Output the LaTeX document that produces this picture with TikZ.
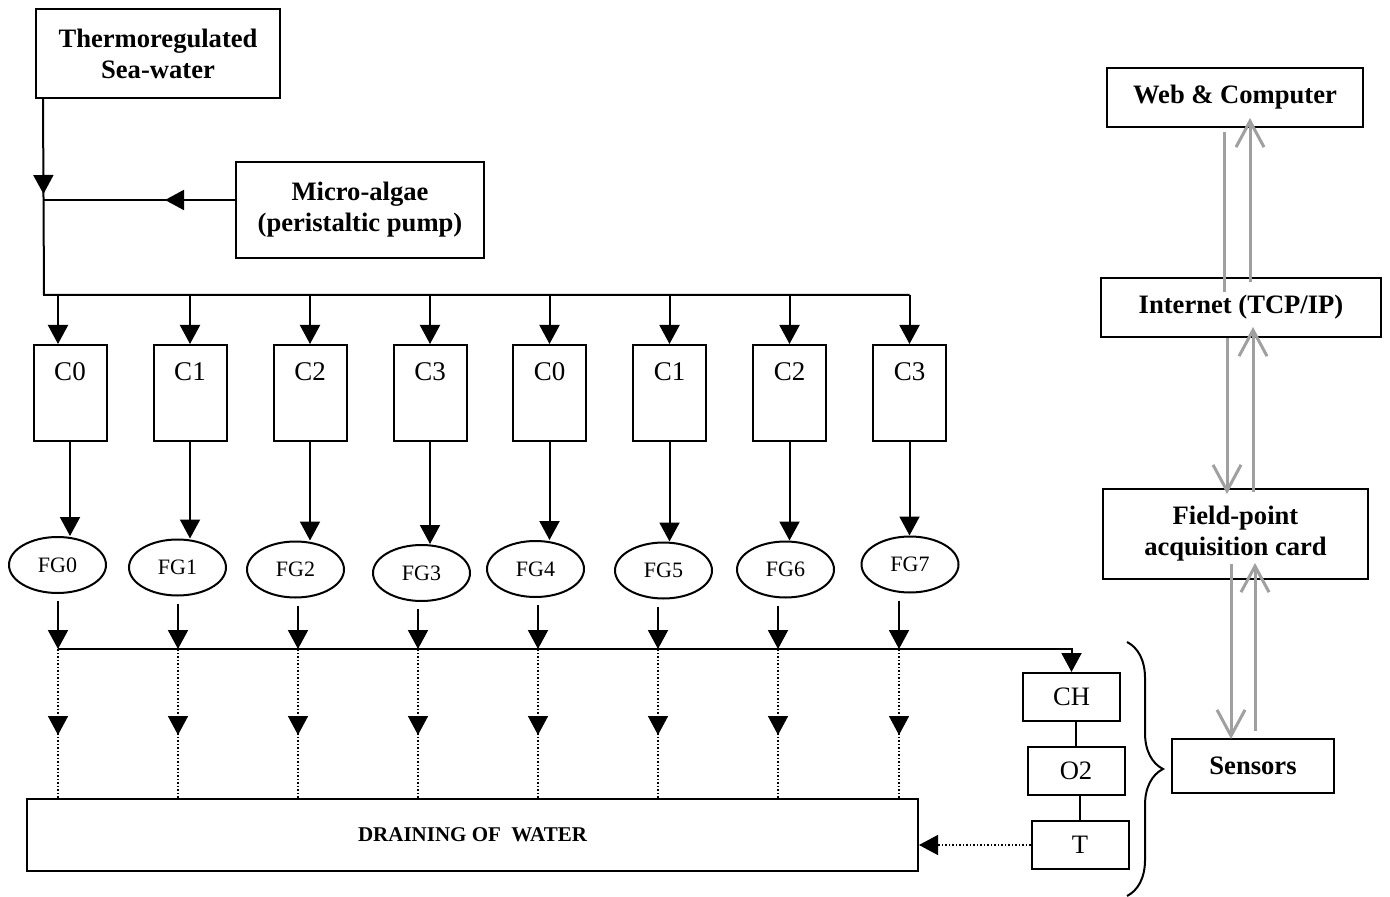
\documentclass[tikz,border=0pt]{standalone}
\usepackage{fontspec}
\setmainfont{Liberation Serif}
\usetikzlibrary{arrows.meta,calc,shapes.geometric,decorations.pathreplacing,decorations.markings}
\definecolor{linkgray}{RGB}{160,160,160}

\begin{document}
\begin{tikzpicture}[x=0.5pt, y=-0.5pt, line width=1pt,
  >={Triangle[length=9.5pt,width=10pt]},
  block/.style={draw, inner sep=0pt, align=center, font=\fontsize{13.3}{15.5}\selectfont\bfseries},
  tank/.style={draw, inner sep=0pt, minimum width=36.5pt, text height=18pt, text depth=30pt, font=\fontsize{13.5}{15}\selectfont},
  gauge/.style={draw, ellipse, inner sep=0pt, minimum width=48.5pt, minimum height=28pt, font=\fontsize{11}{13}\selectfont},
  probe/.style={draw, inner sep=0pt, minimum width=48.5pt, minimum height=24pt, font=\fontsize{13.3}{15}\selectfont},
  linkline/.style={draw=linkgray, line width=1.5pt},
  link/.style={linkline, -{Straight Barb[length=13pt,width=14pt]}},
  drop/.style={densely dotted, line width=0.75pt},
  midarrow/.style={postaction={decorate}, decoration={markings, mark=at position #1 with {\arrow{>}}}}]
\useasboundingbox (0,0) rectangle (1390,897);

% inflow
\node[block, minimum width=122pt, minimum height=44.5pt] (thermo) at (158,53.5) {Thermoregulated\\Sea-water};
\node[block, minimum width=124pt, minimum height=48pt] (algae) at (360,210) {Micro-algae\\(peristaltic pump)};
\coordinate (mix) at (44,200);
\coordinate (feed) at (44,295);

% tanks
\node[tank] (c1) at (70,393) {C0};
\node[tank] (c2) at (190,393) {C1};
\node[tank] (c3) at (310,393) {C2};
\node[tank] (c4) at (430,393) {C3};
\node[tank] (c5) at (549.5,393) {C0};
\node[tank] (c6) at (669.5,393) {C1};
\node[tank] (c7) at (789.5,393) {C2};
\node[tank] (c8) at (909.5,393) {C3};

% filters
\node[gauge] (fg0) at (57.5,565) {FG0};
\node[gauge] (fg1) at (177.5,567.5) {FG1};
\node[gauge] (fg2) at (295.5,569.5) {FG2};
\node[gauge] (fg3) at (421.5,573) {FG3};
\node[gauge] (fg4) at (535.5,569) {FG4};
\node[gauge] (fg5) at (663.5,570.5) {FG5};
\node[gauge] (fg6) at (785.5,569.5) {FG6};
\node[gauge] (fg7) at (910,564.5) {FG7};

\coordinate (d0) at (58,649);
\coordinate (d1) at (178,649);
\coordinate (d2) at (298,649);
\coordinate (d3) at (418,649);
\coordinate (d4) at (538,649);
\coordinate (d5) at (658,649);
\coordinate (d6) at (778,649);
\coordinate (d7) at (899,649);

\node[draw, inner sep=0pt, minimum width=445.5pt, minimum height=36pt, font=\fontsize{10.5}{12}\selectfont\bfseries] (drain) at (472.5,835) {DRAINING OF \ WATER};

% sensors
\node[probe] (ch) at (1071.5,697) {CH};
\node[probe] (o2) at (1076,771) {O2};
\node[probe] (temp) at (1080,845) {T};

% acquisition chain
\node[block, minimum width=128pt, minimum height=29.5pt] (web) at (1235,97.5) {Web \& Computer};
\node[block, minimum width=140pt, minimum height=29.5pt] (internet) at (1241,307.5) {Internet (TCP/IP)};
\node[block, minimum width=132.5pt, minimum height=45pt] (fieldpt) at (1235.5,534) {Field-point\\acquisition card};
\node[block, minimum width=81pt, minimum height=27pt] (sensors) at (1253,766) {Sensors};

% water lines
\draw[midarrow=47.5pt] ($(thermo.south west)+(8,0)$) -- (feed) -- (feed -| c8.north);
\draw[midarrow=35pt] ($(algae.west)+(0,-10)$) -- (mix);
\draw[->] ($(c1.north |- feed)+(-12,0)$) -- ($(c1.north)+(-12,0)$);
\draw[->] (c2.north |- feed) -- (c2.north);
\draw[->] (c3.north |- feed) -- (c3.north);
\draw[->] (c4.north |- feed) -- (c4.north);
\draw[->] (c5.north |- feed) -- (c5.north);
\draw[->] (c6.north |- feed) -- (c6.north);
\draw[->] (c7.north |- feed) -- (c7.north);
\draw[->] (c8.north |- feed) -- (c8.north);

\draw[->] (c1.south) -- (c1.south |- fg0.north);
\draw[->] (c2.south) -- (c2.south |- fg1.north);
\draw[->] (c3.south) -- (c3.south |- fg2.north);
\draw[->] (c4.south) -- (c4.south |- fg3.north);
\draw[->] (c5.south) -- (c5.south |- fg4.north);
\draw[->] (c6.south) -- (c6.south |- fg5.north);
\draw[->] (c7.south) -- (c7.south |- fg6.north);
\draw[->] (c8.south) -- (c8.south |- fg7.north);

\draw[->] ($(d0 |- fg0.south)+(0,7)$) -- (d0);
\draw[->] ($(d1 |- fg1.south)+(0,7)$) -- (d1);
\draw[->] ($(d2 |- fg2.south)+(0,7)$) -- (d2);
\draw[->] ($(d3 |- fg3.south)+(0,7)$) -- (d3);
\draw[->] ($(d4 |- fg4.south)+(0,7)$) -- (d4);
\draw[->] ($(d5 |- fg5.south)+(0,7)$) -- (d5);
\draw[->] ($(d6 |- fg6.south)+(0,7)$) -- (d6);
\draw[->] ($(d7 |- fg7.south)+(0,7)$) -- (d7);
\draw[->] (d0) -| (ch.north);

% overflow
\draw[drop, midarrow=43pt] (d0) -- (d0 |- drain.north);
\draw[drop, midarrow=43pt] (d1) -- (d1 |- drain.north);
\draw[drop, midarrow=43pt] (d2) -- (d2 |- drain.north);
\draw[drop, midarrow=43pt] (d3) -- (d3 |- drain.north);
\draw[drop, midarrow=43pt] (d4) -- (d4 |- drain.north);
\draw[drop, midarrow=43pt] (d5) -- (d5 |- drain.north);
\draw[drop, midarrow=43pt] (d6) -- (d6 |- drain.north);
\draw[drop, midarrow=43pt] (d7) -- (d7 |- drain.north);
\draw[drop, ->] (temp.west) -- (temp.west -| drain.east);

\draw (o2.north |- ch.south) -- (o2.north);
\draw (temp.north |- o2.south) -- (temp.north);
\draw[decorate, decoration={brace, amplitude=18pt}] (1127,642) -- (1127,896);

% data links
\draw[linkline] ($(web.south)+(-11,4)$) -- ($(web.south |- internet.north)+(-11,15)$);
\draw[link] ($(web.south |- internet.north)+(15,5)$) -- ($(web.south)+(15,-10)$);
\draw[link] ($(internet.south)+(-14,0)$) -- ($(internet.south |- fieldpt.north)+(-14,6)$);
\draw[link] ($(internet.south |- fieldpt.north)+(12,4)$) -- ($(internet.south)+(12,-11)$);
\draw[link] ($(fieldpt.south)+(-4.5,-16)$) -- ($(fieldpt.south |- sensors.north)+(-4.5,1)$);
\draw[link] ($(fieldpt.south |- sensors.north)+(19.5,-7)$) -- ($(fieldpt.south)+(19.5,-17)$);
\end{tikzpicture}
\end{document}
